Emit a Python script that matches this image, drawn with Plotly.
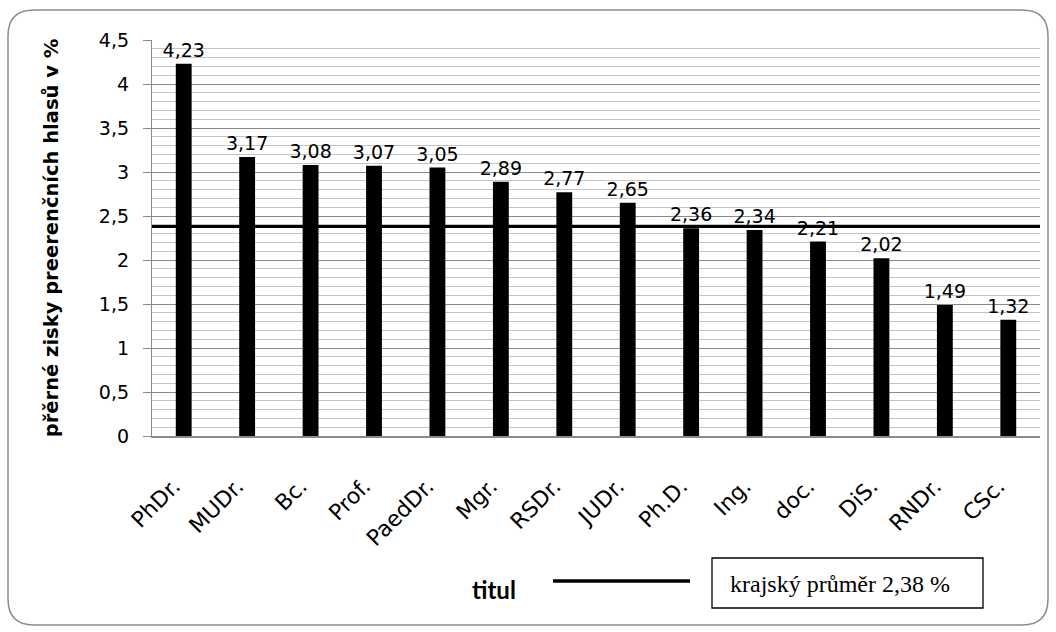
import plotly.graph_objects as go

categories = ["PhDr.", "MUDr.", "Bc.", "Prof.", "PaedDr.", "Mgr.", "RSDr.", "JUDr.",
              "Ph.D.", "Ing.", "doc.", "DiS.", "RNDr.", "CSc."]
values = [4.23, 3.17, 3.08, 3.07, 3.05, 2.89, 2.77, 2.65, 2.36, 2.34, 2.21, 2.02, 1.49, 1.32]
average = 2.38
y_title = "přěrné zisky preerenčních hlasů v %"
x_title = "titul"
avg_label = "krajský průměr 2,38 %"

W, H = 1056, 632
L, R, T, B = 152, 1040, 40, 436
FONT = "DejaVu Sans"


def px(x):
    return (x - L) / (R - L)


def py(y):
    return (B - y) / (B - T)


labels = [f"{v:.2f}".replace(".", ",") for v in values]

fig = go.Figure()
fig.add_trace(go.Bar(
    x=categories, y=values, marker=dict(color="black", line=dict(width=0)),
    text=labels, textposition="outside", cliponaxis=False, constraintext="none",
    textfont=dict(family=FONT, size=19, color="black"),
))

shapes = []
shapes.append(dict(type="line", xref="paper", yref="y", x0=0, x1=1, y0=average, y1=average,
                   line=dict(color="black", width=3), layer="above"))
shapes.append(dict(type="line", xref="paper", yref="paper", x0=px(553), x1=px(690),
                   y0=py(581), y1=py(581), line=dict(color="black", width=3.5)))
shapes.append(dict(type="rect", xref="paper", yref="paper", x0=px(712), x1=px(983),
                   y0=py(558), y1=py(608), line=dict(color="black", width=1.3)))
x0, x1, y0, y1, r = 8, 1048, 10, 625, 26
pts = [
    ("M", px(x0 + r), py(y0)), ("L", px(x1 - r), py(y0)),
    ("Q", px(x1), py(y0), px(x1), py(y0 + r)),
    ("L", px(x1), py(y1 - r)),
    ("Q", px(x1), py(y1), px(x1 - r), py(y1)),
    ("L", px(x0 + r), py(y1)),
    ("Q", px(x0), py(y1), px(x0), py(y1 - r)),
    ("L", px(x0), py(y0 + r)),
    ("Q", px(x0), py(y0), px(x0 + r), py(y0)),
]
path = ""
for p in pts:
    path += p[0] + " " + " ".join(f"{v:.5f}" for v in p[1:]) + " "
path += "Z"
shapes.append(dict(type="path", xref="paper", yref="paper", path=path,
                   line=dict(color="#8c8c8c", width=1.5)))

annotations = [
    dict(xref="paper", yref="paper", x=px(494), y=py(589), text=f"<b>{x_title}</b>",
         xanchor="center", yanchor="middle",
         showarrow=False, font=dict(family="Lato", size=24, color="black")),
    dict(xref="paper", yref="paper", x=px(840), y=py(584), text=avg_label,
         xanchor="center", yanchor="middle",
         showarrow=False, font=dict(family="Liberation Serif", size=24, color="black")),
]

fig.update_layout(
    width=W, height=H,
    margin=dict(l=L, r=W - R, t=T, b=H - B, autoexpand=False),
    paper_bgcolor="white", plot_bgcolor="white",
    separators=", ",
    showlegend=False,
    bargap=0.75,
    shapes=shapes,
    annotations=annotations,
    font=dict(family=FONT, color="black"),
)
fig.update_yaxes(
    range=[0, 4.5],
    tickvals=[0, 0.5, 1, 1.5, 2, 2.5, 3, 3.5, 4, 4.5],
    ticktext=["0", "0,5", "1", "1,5", "2", "2,5", "3", "3,5", "4", "4,5"],
    showgrid=True, gridcolor="#8a8a8a", gridwidth=1.3,
    minor=dict(dtick=0.1, showgrid=True, gridcolor="#c4c4c4", gridwidth=1.3),
    showline=True, linecolor="#8a8a8a", linewidth=1.3,
    ticks="outside", ticklen=8, tickcolor="#8a8a8a",
    ticklabelstandoff=10,
    tickfont=dict(family=FONT, size=19, color="black"),
    title=dict(text=f"<b>{y_title}</b>", font=dict(family=FONT, size=19.5, color="black"),
               standoff=35),
    zeroline=False,
)
fig.update_xaxes(
    tickangle=-45, showline=True, linecolor="#8a8a8a", linewidth=1.5,
    tickvals=categories,
    ticktext=[c + "\u00a0\u00a0" for c in categories],
    tickfont=dict(family=FONT, size=22, color="black"),
    ticks="", showgrid=False, ticklabelstandoff=17,
)

fig.write_html("out.html", post_script="document.body.style.margin='0';",
               config={"displayModeBar": False})
